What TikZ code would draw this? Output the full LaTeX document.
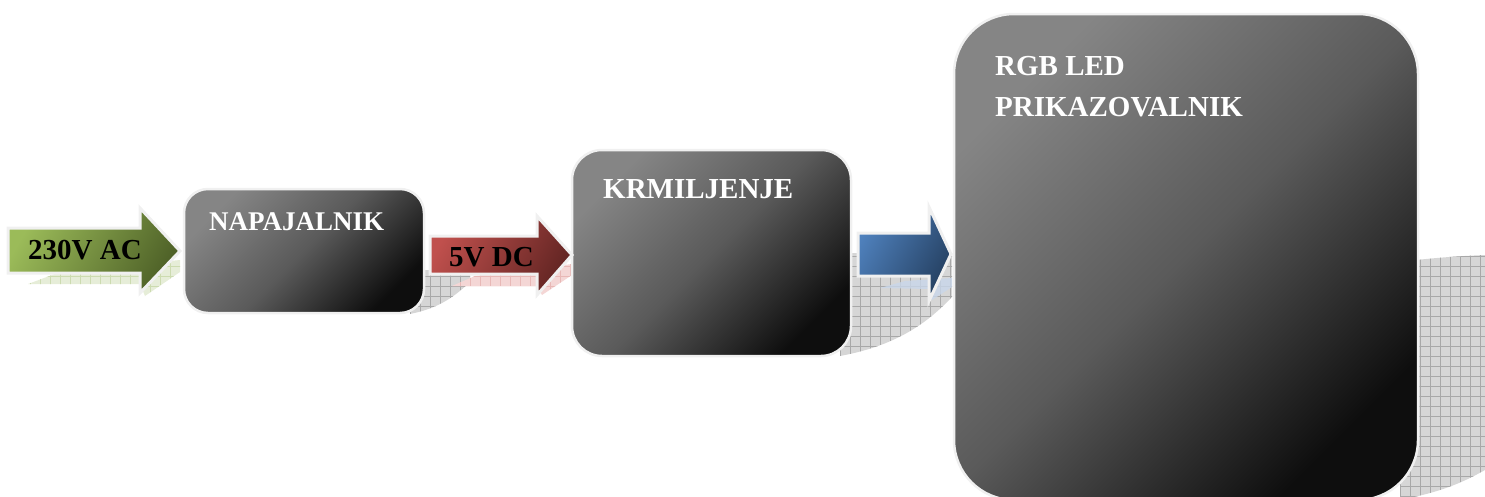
\documentclass[tikz,border=0pt]{standalone}
\usepackage{fontspec}
\setmainfont{Liberation Serif}
\usetikzlibrary{patterns.meta}
\definecolor{boxtop}{HTML}{858585}
\definecolor{boxmid}{HTML}{5A5A5A}
\definecolor{boxbot}{HTML}{0E0E0E}
\definecolor{grnL}{HTML}{9BBB59}
\definecolor{grnD}{HTML}{4F6228}
\definecolor{redL}{HTML}{C0504D}
\definecolor{redD}{HTML}{632523}
\definecolor{bluL}{HTML}{4F81BD}
\definecolor{bluD}{HTML}{254061}
\definecolor{edgew}{HTML}{F0F0F0}
\definecolor{shgray}{HTML}{D6D6D6}
\definecolor{shline}{HTML}{A8A8A8}
\definecolor{shgrn}{HTML}{E6EDD8}
\definecolor{shgrnl}{HTML}{CCDBB0}
\definecolor{shred}{HTML}{F4D6D5}
\definecolor{shredl}{HTML}{E8B8B6}
\definecolor{shblu}{HTML}{C9D7EA}
\tikzset{
  blk/.style={draw=edgew, line width=2.5pt, shade, top color=boxtop, bottom color=boxbot, middle color=boxmid, shading angle=45, inner sep=0pt},
  arr/.style n args={2}{draw=edgew, line width=3pt, line join=miter, top color=#1, bottom color=#2, shading angle=60},
  lblw/.style={text=white, font=\bfseries\fontsize{29}{35}\selectfont, inner sep=0pt, anchor=base west},
  lblb/.style={text=black, font=\bfseries\fontsize{29}{35}\selectfont, inner sep=0pt, anchor=base west},
  gridsh/.style n args={2}{fill=#1, postaction={pattern={Hatch[angle=0,distance=10pt,line width=0.6pt]}, pattern color=#2}}
}
\begin{document}
\begin{tikzpicture}[x=1pt,y=-1pt]
\useasboundingbox (0,0) rectangle (1485,496);
\clip (0,0) rectangle (1485,496);
% shadows
\path[gridsh={shgray}{shline}] (1400,262) .. controls (1430,258) and (1460,256) .. (1485,255) -- (1485,470) .. controls (1460,484) and (1440,492) .. (1400,500) -- cycle;
\path[gridsh={shgray}{shline}] (840,253) -- (952,253) -- (952,297) .. controls (930,320) and (900,345) .. (840,356) -- cycle;
\path[gridsh={shgray}{shline}] (410,270) -- (470,270) -- (470,282) .. controls (455,296) and (440,308) .. (410,314) -- cycle;
\path[gridsh={shgrn}{shgrnl}] (28,284) -- (60,272) -- (180,260) -- (180,272) -- (145,296) -- (140,284) -- cycle;
\path[gridsh={shred}{shredl}] (452,286) -- (475,276) -- (572,264) -- (572,275) -- (542,295) -- (537,286) -- cycle;
\path[fill=shblu, opacity=0.8] (880,288) -- (905,281) -- (952,278) -- (952,287) -- (932,300) -- (929,289) -- cycle;
% boxes
\node[blk, rounded corners=24pt, minimum width=240pt, minimum height=124pt] (nap) at (304,251) {};
\node[blk, rounded corners=30pt, minimum width=279pt, minimum height=206pt] (krm) at (711.5,253) {};
\node[blk, rounded corners=60pt, minimum width=464pt, minimum height=486pt] (rgb) at (1186,257) {};
% arrows
\path[arr={grnL}{grnD}] (8,228) -- (140,228) -- (140,208) -- (180,251) -- (140,293) -- (140,273) -- (8,273) -- cycle;
\path[arr={redL}{redD}] (430,236) -- (537,236) -- (537,216) -- (572,255) -- (537,295) -- (537,274) -- (430,274) -- cycle;
\path[arr={bluL}{bluD}] (858,233) -- (929,233) -- (929,207) -- (951,254) -- (929,301) -- (929,276) -- (858,276) -- cycle;
% labels
\node[lblb] (acl) at (28,259) {230V AC};
\node[lblb] (dcl) at (449,266) {5V DC};
\node[lblw, font=\bfseries\fontsize{27}{32}\selectfont] (napl) at (209,230) {NAPAJALNIK};
\node[lblw] (krml) at (603,198) {KRMILJENJE};
\node[lblw] (rgbl1) at (995,75) {RGB LED};
\node[lblw] (rgbl2) at (995,116) {PRIKAZOVALNIK};
\end{tikzpicture}
\end{document}
